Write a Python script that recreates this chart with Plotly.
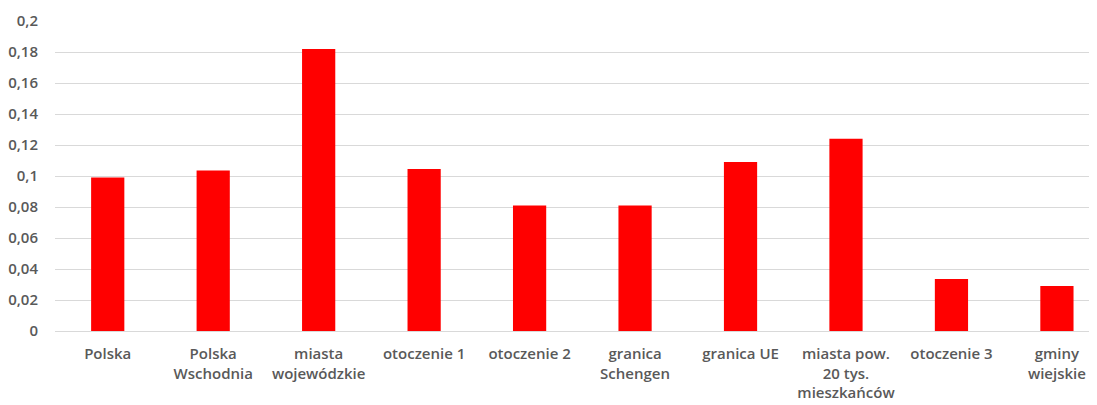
import plotly.graph_objects as go

categories = ["Polska", "Polska<br>Wschodnia", "miasta<br>wojewódzkie", "otoczenie 1",
              "otoczenie 2", "granica<br>Schengen", "granica UE",
              "miasta pow.<br>20 tys.<br>mieszkańców", "otoczenie 3", "gminy<br>wiejskie"]
values = [0.099, 0.1035, 0.182, 0.1045, 0.081, 0.081, 0.109, 0.124, 0.0335, 0.029]
tick_vals = [0, 0.02, 0.04, 0.06, 0.08, 0.1, 0.12, 0.14, 0.16, 0.18, 0.2]
tick_text = ["0", "0,02", "0,04", "0,06", "0,08", "0,1", "0,12", "0,14", "0,16", "0,18", "0,2"]

fig = go.Figure(go.Bar(x=list(range(len(categories))), y=values,
                       marker=dict(color="#FF0000", line=dict(width=0)), width=0.315))

tfont = dict(family="Open Sans, sans-serif", size=15, color="#595959", weight=600)
fig.update_layout(
    width=1089, height=397,
    margin=dict(l=47, r=0, t=13, b=74),
    plot_bgcolor="white", paper_bgcolor="white",
    showlegend=False,
    font=tfont,
    xaxis=dict(tickvals=list(range(len(categories))), ticktext=categories,
               range=[-0.5, 9.38], showgrid=False, zeroline=False, automargin=False,
               showline=False, ticks="", ticklabelstandoff=12, tickfont=tfont),
    yaxis=dict(range=[0, 0.2], tickvals=tick_vals, ticktext=tick_text, automargin=False,
               showgrid=True, gridcolor="#D9D9D9", gridwidth=1.3,
               zeroline=True, zerolinecolor="#D9D9D9", zerolinewidth=1.3,
               ticks="", ticklabelstandoff=16, tickfont=tfont),
)
fig.write_html("out.html")
